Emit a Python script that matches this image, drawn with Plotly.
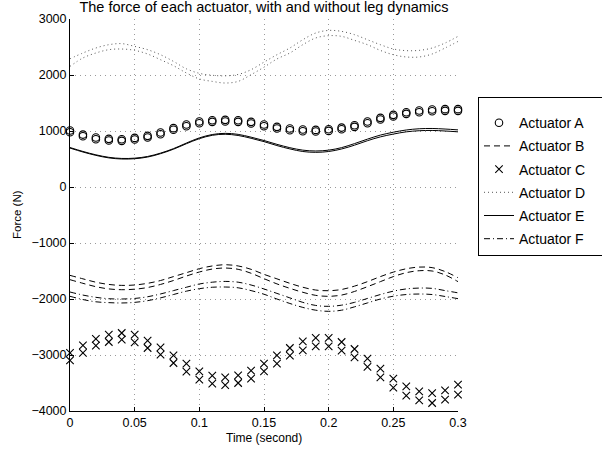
import plotly.graph_objects as go

t = [0.00, 0.01, 0.02, 0.03, 0.04, 0.05, 0.06, 0.07, 0.08, 0.09, 0.10,
     0.11, 0.12, 0.13, 0.14, 0.15, 0.16, 0.17, 0.18, 0.19, 0.20,
     0.21, 0.22, 0.23, 0.24, 0.25, 0.26, 0.27, 0.28, 0.29, 0.30]

A1 = [1008, 936, 883, 860, 854, 877, 913, 972, 1051, 1115, 1169, 1193, 1199, 1193, 1163, 1115,
      1074, 1044, 1026, 1020, 1032, 1061, 1104, 1169, 1235, 1288, 1336, 1365, 1383, 1390, 1390]
A2 = [978, 906, 853, 830, 824, 847, 883, 942, 1021, 1085, 1139, 1163, 1169, 1163, 1133, 1085,
      1044, 1014, 996, 990, 1002, 1031, 1074, 1139, 1205, 1258, 1306, 1335, 1353, 1360, 1360]

B1 = [-1578, -1640, -1700, -1740, -1757, -1750, -1720, -1670, -1600, -1530, -1459, -1410, -1388,
      -1410, -1470, -1560, -1640, -1720, -1790, -1840, -1852, -1830, -1770, -1690, -1600, -1520,
      -1460, -1430, -1440, -1510, -1620]
B2 = [-1655, -1720, -1780, -1820, -1834, -1825, -1795, -1740, -1670, -1590, -1518, -1465, -1447,
      -1470, -1540, -1637, -1730, -1810, -1880, -1935, -1952, -1930, -1865, -1780, -1690, -1600,
      -1530, -1495, -1500, -1570, -1690]

C1 = [-2964, -2828, -2714, -2638, -2607, -2638, -2745, -2864, -3007, -3155, -3293, -3370, -3400,
      -3364, -3280, -3155, -3007, -2875, -2757, -2696, -2696, -2768, -2893, -3066, -3245, -3423,
      -3561, -3650, -3679, -3632, -3530]
C2 = [-3096, -2964, -2834, -2768, -2727, -2775, -2875, -2995, -3143, -3298, -3441, -3513, -3536,
      -3500, -3423, -3293, -3155, -3012, -2918, -2846, -2846, -2923, -3043, -3214, -3400, -3584,
      -3727, -3811, -3857, -3798, -3709]

D1 = [2290, 2393, 2482, 2541, 2560, 2511, 2452, 2362, 2243, 2110, 2030, 1995, 1985, 2010, 2095,
      2230, 2362, 2482, 2630, 2750, 2796, 2779, 2720, 2630, 2541, 2465, 2435, 2440, 2482, 2571, 2690]
D2 = [2154, 2304, 2393, 2452, 2464, 2440, 2375, 2273, 2166, 2036, 1930, 1886, 1857, 1886, 2006,
      2140, 2286, 2393, 2541, 2661, 2702, 2690, 2618, 2541, 2439, 2362, 2322, 2322, 2375, 2482, 2600]

E1 = [705, 635, 575, 530, 510, 515, 545, 605, 685, 785, 877, 937, 958, 940, 890, 830,
      762, 702, 658, 643, 658, 703, 775, 855, 927, 978, 1018, 1040, 1045, 1035, 1020]
E2 = [695, 625, 565, 520, 500, 505, 535, 595, 675, 773, 863, 923, 942, 920, 870, 810,
      740, 680, 634, 619, 634, 679, 747, 827, 895, 945, 985, 1005, 1010, 1000, 985]

F1 = [-1875, -1930, -1970, -1995, -2000, -1990, -1960, -1910, -1850, -1790, -1732, -1700, -1686,
      -1700, -1750, -1821, -1900, -1980, -2060, -2115, -2131, -2110, -2060, -1990, -1920, -1860,
      -1820, -1805, -1810, -1850, -1890]
F2 = [-1952, -2010, -2050, -2065, -2071, -2060, -2030, -1980, -1920, -1860, -1816, -1790, -1786,
      -1800, -1850, -1915, -2000, -2080, -2150, -2200, -2220, -2200, -2140, -2070, -2000, -1950,
      -1920, -1911, -1920, -1955, -1994]

x_ticks = [0, 0.05, 0.1, 0.15, 0.2, 0.25, 0.3]
x_labels = ["0", "0.05", "0.1", "0.15", "0.2", "0.25", "0.3"]
y_ticks = [-4000, -3000, -2000, -1000, 0, 1000, 2000, 3000]
y_labels = ["\u22124000", "\u22123000", "\u22122000", "\u22121000", "0", "1000", "2000", "3000"]

FONT = "Liberation Sans, Arial, Helvetica, sans-serif"
PAD = "\u00a0\u00a0\u00a0"

fig = go.Figure()

def add(name, ys, group, show, mode, dash=None, symbol=None, color="black"):
    kw = dict(x=t, y=ys, name=name + PAD, legendgroup=group, showlegend=show, mode=mode,
              cliponaxis=False)
    if mode == "lines":
        kw["line"] = dict(color=color, width=1, dash=dash, shape="spline")
    else:
        kw["marker"] = dict(symbol=symbol, size=7.5, color=color,
                            line=dict(color=color, width=1.1))
    fig.add_trace(go.Scatter(**kw))

add("Actuator A", A1, "A", True, "markers", symbol="circle-open")
add("Actuator A", A2, "A", False, "markers", symbol="circle-open")
add("Actuator B", B1, "B", True, "lines", dash="6px,4px")
add("Actuator B", B2, "B", False, "lines", dash="6px,4px")
add("Actuator C", C1, "C", True, "markers", symbol="x-thin-open")
add("Actuator C", C2, "C", False, "markers", symbol="x-thin-open")
add("Actuator D", D1, "D", True, "lines", dash="1px,3px", color="#555555")
add("Actuator D", D2, "D", False, "lines", dash="1px,3px", color="#555555")
add("Actuator E", E1, "E", True, "lines", dash="solid")
add("Actuator E", E2, "E", False, "lines", dash="solid")
add("Actuator F", F1, "F", True, "lines", dash="6px,3px,1px,3px")
add("Actuator F", F2, "F", False, "lines", dash="6px,3px,1px,3px")

grid = dict(showgrid=True, gridcolor="#9a9a9a", griddash="1px,4px", gridwidth=1, zeroline=False)

fig.update_layout(
    width=602, height=452,
    margin=dict(l=70, r=144, t=19, b=41, autoexpand=False),
    paper_bgcolor="white", plot_bgcolor="white",
    font=dict(family=FONT, size=12.5, color="black"),
    title=dict(text="The force of each actuator, with and without leg dynamics",
               x=(70 + 458) / 2 / 602, xanchor="center", xref="container",
               y=(452 - 7) / 452, yanchor="middle", yref="container", automargin=False,
               font=dict(family=FONT, size=14.5, color="black")),
    xaxis=dict(range=[0, 0.3], tickvals=x_ticks, ticktext=x_labels, automargin=False,
               ticks="inside", ticklen=4, tickcolor="black",
               showline=True, linecolor="black", linewidth=1, mirror=False,
               **grid),
    yaxis=dict(range=[-4000, 3000], tickvals=y_ticks, ticktext=y_labels, automargin=False,
               ticks="inside", ticklen=4, tickcolor="black",
               showline=True, linecolor="black", linewidth=1, mirror=False,
               **grid),
    legend=dict(x=(478 - 70) / 388, y=(411 - 97) / 392, xanchor="left", yanchor="top",
                bordercolor="black", borderwidth=1, bgcolor="white",
                font=dict(family=FONT, size=14, color="black"),
                title=dict(text=" ", font=dict(size=7)),
                traceorder="grouped", tracegroupgap=2, itemwidth=30),
    annotations=[
        dict(text="Time (second)", xref="paper", yref="paper", x=0.5,
             y=(411 - 438) / 392, xanchor="center", yanchor="middle", showarrow=False,
             font=dict(family=FONT, size=12, color="black")),
        dict(text="Force (N)", xref="paper", yref="paper", x=(17 - 70) / 388,
             y=0.5, xanchor="center", yanchor="middle", showarrow=False, textangle=-90,
             font=dict(family=FONT, size=11.5, color="black")),
    ],
)

fig.write_html("out.html", post_script="document.body.style.margin='0';",
               config={"displayModeBar": False})
